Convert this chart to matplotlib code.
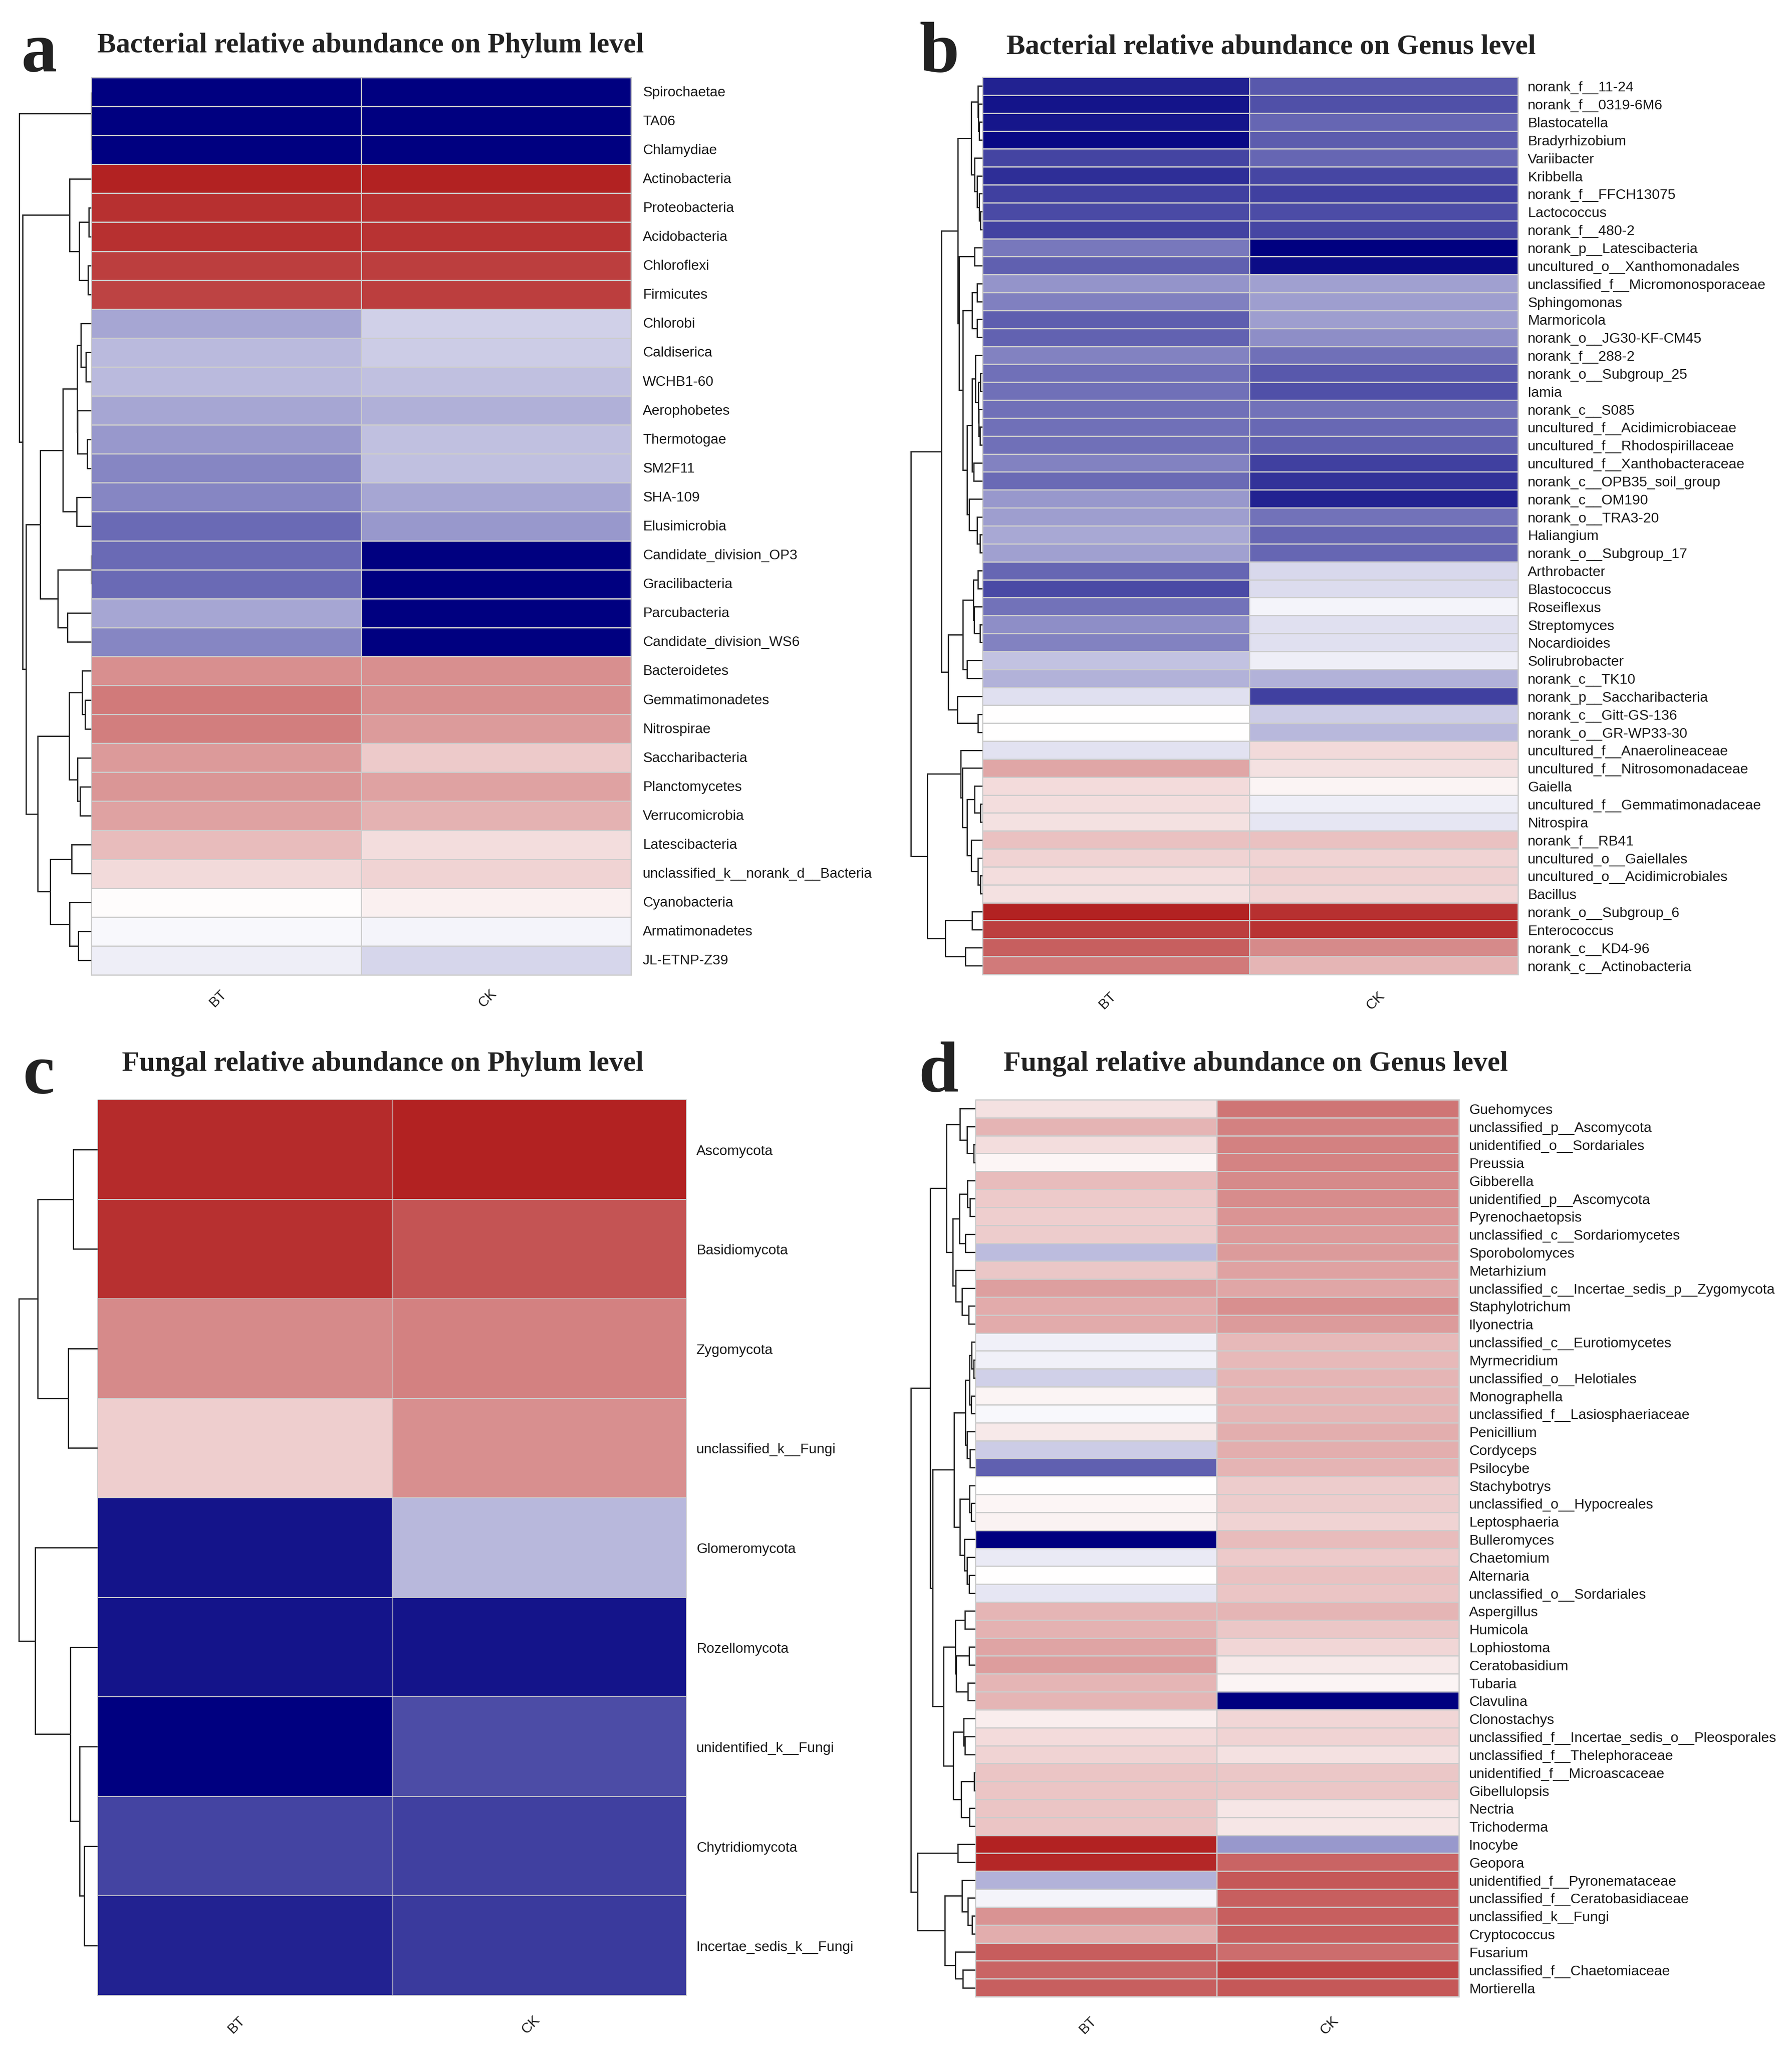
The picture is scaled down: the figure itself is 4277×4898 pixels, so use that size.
import numpy as np
import matplotlib
matplotlib.use("Agg")
import matplotlib.pyplot as plt
from matplotlib.colors import LinearSegmentedColormap, Normalize
from matplotlib.transforms import ScaledTranslation

# scaled abundance, -1 (navy) to 1 (firebrick)
samples = ["BT", "CK"]

a_labels = ["Spirochaetae", "TA06", "Chlamydiae", "Actinobacteria", "Proteobacteria", "Acidobacteria",
            "Chloroflexi", "Firmicutes", "Chlorobi", "Caldiserica", "WCHB1-60", "Aerophobetes", "Thermotogae",
            "SM2F11", "SHA-109", "Elusimicrobia", "Candidate_division_OP3", "Gracilibacteria", "Parcubacteria",
            "Candidate_division_WS6", "Bacteroidetes", "Gemmatimonadetes", "Nitrospirae", "Saccharibacteria",
            "Planctomycetes", "Verrucomicrobia", "Latescibacteria", "unclassified_k__norank_d__Bacteria",
            "Cyanobacteria", "Armatimonadetes", "JL-ETNP-Z39"]
a_bt = [-1, -1, -1, 1.0, .93, .93, .87, .85, -.35, -.27, -.27, -.35, -.4, -.47, -.47, -.58, -.58, -.58, -.35, -.47,
        .5, .6, .58, .46, .47, .42, .3, .17, .01, -.03, -.07]
a_ck = [-1, -1, -1, 1.0, .93, .92, .87, .87, -.18, -.2, -.25, -.31, -.25, -.25, -.35, -.4, -1, -1, -1, -1,
        .5, .5, .45, .24, .42, .35, .15, .2, .07, -.04, -.16]

b_labels = ["norank_f__11-24", "norank_f__0319-6M6", "Blastocatella", "Bradyrhizobium", "Variibacter", "Kribbella",
            "norank_f__FFCH13075", "Lactococcus", "norank_f__480-2", "norank_p__Latescibacteria",
            "uncultured_o__Xanthomonadales", "unclassified_f__Micromonosporaceae", "Sphingomonas", "Marmoricola",
            "norank_o__JG30-KF-CM45", "norank_f__288-2", "norank_o__Subgroup_25", "Iamia", "norank_c__S085",
            "uncultured_f__Acidimicrobiaceae", "uncultured_f__Rhodospirillaceae", "uncultured_f__Xanthobacteraceae",
            "norank_c__OPB35_soil_group", "norank_c__OM190", "norank_o__TRA3-20", "Haliangium",
            "norank_o__Subgroup_17", "Arthrobacter", "Blastococcus", "Roseiflexus", "Streptomyces", "Nocardioides",
            "Solirubrobacter", "norank_c__TK10", "norank_p__Saccharibacteria", "norank_c__Gitt-GS-136",
            "norank_o__GR-WP33-30", "uncultured_f__Anaerolineaceae", "uncultured_f__Nitrosomonadaceae", "Gaiella",
            "uncultured_f__Gemmatimonadaceae", "Nitrospira", "norank_f__RB41", "uncultured_o__Gaiellales",
            "uncultured_o__Acidimicrobiales", "Bacillus", "norank_o__Subgroup_6", "Enterococcus",
            "norank_c__KD4-96", "norank_c__Actinobacteria"]
b_bt = [-.86, -.92, -.91, -.96, -.73, -.82, -.75, -.71, -.74, -.53, -.62, -.42, -.5, -.63, -.61, -.49, -.56, -.56,
        -.56, -.56, -.56, -.49, -.58, -.4, -.38, -.34, -.37, -.6, -.71, -.55, -.44, -.49, -.24, -.3, -.12, 0, 0,
        -.11, .4, .16, .15, .14, .28, .2, .15, .14, 1.0, .86, .72, .6]
b_ck = [-.65, -.68, -.6, -.64, -.6, -.72, -.75, -.7, -.72, -1, -.95, -.37, -.38, -.38, -.44, -.56, -.65, -.68,
        -.55, -.59, -.62, -.75, -.8, -.86, -.55, -.6, -.6, -.15, -.14, -.04, -.12, -.12, -.07, -.3, -.75, -.2, -.28,
        .17, .14, .05, -.07, -.1, .28, .2, .21, .18, .93, .92, .53, .33]

c_labels = ["Ascomycota", "Basidiomycota", "Zygomycota", "unclassified_k__Fungi", "Glomeromycota", "Rozellomycota",
            "unidentified_k__Fungi", "Chytridiomycota", "Incertae_sedis_k__Fungi"]
c_bt = [.96, .93, .53, .22, -.92, -.92, -1, -.73, -.86]
c_ck = [1.0, .77, .57, .5, -.28, -.92, -.7, -.75, -.77]

d_labels = ["Guehomyces", "unclassified_p__Ascomycota", "unidentified_o__Sordariales", "Preussia", "Gibberella",
            "unidentified_p__Ascomycota", "Pyrenochaetopsis", "unclassified_c__Sordariomycetes", "Sporobolomyces",
            "Metarhizium", "unclassified_c__Incertae_sedis_p__Zygomycota", "Staphylotrichum", "Ilyonectria",
            "unclassified_c__Eurotiomycetes", "Myrmecridium", "unclassified_o__Helotiales", "Monographella",
            "unclassified_f__Lasiosphaeriaceae", "Penicillium", "Cordyceps", "Psilocybe", "Stachybotrys",
            "unclassified_o__Hypocreales", "Leptosphaeria", "Bulleromyces", "Chaetomium", "Alternaria",
            "unclassified_o__Sordariales", "Aspergillus", "Humicola", "Lophiostoma", "Ceratobasidium", "Tubaria",
            "Clavulina", "Clonostachys", "unclassified_f__Incertae_sedis_o__Pleosporales",
            "unclassified_f__Thelephoraceae", "unidentified_f__Microascaceae", "Gibellulopsis", "Nectria",
            "Trichoderma", "Inocybe", "Geopora", "unidentified_f__Pyronemataceae", "unclassified_f__Ceratobasidiaceae",
            "unclassified_k__Fungi", "Cryptococcus", "Fusarium", "unclassified_f__Chaetomiaceae", "Mortierella"]
d_bt = [.14, .34, .15, .04, .3, .24, .22, .23, -.26, .25, .43, .38, .38, -.06, -.06, -.18, .05, -.03, .1, -.2, -.62,
        0, .04, .06, -1, -.08, 0, -.1, .33, .35, .41, .44, .33, .33, .08, .16, .2, .26, .26, .26, .26,
        1, .97, -.3, -.04, .49, .37, .73, .7, .72]
d_ck = [.62, .57, .57, .56, .53, .52, .48, .46, .45, .42, .4, .5, .45, .32, .32, .33, .33, .33, .36, .36, .34,
        .23, .23, .2, .3, .24, .28, .26, .33, .25, .18, .1, .05, -1, .18, .2, .14, .25, .25, .11, .11,
        -.4, .7, .75, .72, .72, .72, .66, .83, .75]

# dendrograms: (merge height, upper child, lower child), L is one leaf, leaves go top to bottom
L = None

a_tree = (172, (0, L, (0, L, L)),
          (164, (52, L, (29, (6, L, L), (8, L, L))),
           (156, (122, (68, (34, (25, L, (13, L, L)), (33, L, (10, L, L))), (35, L, L)),
                  (80, (0, L, L), (57, L, L))),
            (128, (53, (22, L, (15, L, L)), (33, L, (27, L, L))),
             (98, (47, L, L), (52, L, (31, L, L)))))))

b_tree = (171, (98, (59, (27, (11, L, (10, L, (8, L, L))),
                          (19, L, (13, L, (8, L, (5, L, L))))),
                     (56, (19, L, L),
                      (47, (25, (13, L, L), (13, L, L)),
                       (37, (25, (17, L, (10, (5, L, L), (9, L, (6, L, L)))), (21, L, L)),
                        (32, L, (13, L, (6, L, L))))))),
                (82, (47, (22, (11, L, L), (20, L, (6, L, L))), (37, L, L)),
                 (60, L, (11, L, L)))),
          (132, (52, L, (48, L, (37, (19, L, (5, L, L)), (27, L, (11, L, (5, L, L)))))),
           (89, (25, L, L), (41, L, L))))

c_tree = (188, (143, (58, L, L), (70, L, L)),
          (149, L, (65, L, (43, L, (32, L, L)))))

d_tree = (154, (108, (69, (37, L, (20, L, (4, L, L))),
                      (54, (38, (19, L, (13, L, L)), (24, L, L)),
                       (47, L, (32, L, (16, L, L))))),
                (102, (51, (24, (14, (9, L, (4, L, L)), (10, L, L)), (20, L, (13, L, L))),
                       (37, (14, L, (10, L, L)), (26, L, (20, L, (15, L, L))))),
                 (76, (48, (25, L, L), (46, (15, L, L), (18, L, L))),
                  (53, (28, L, (25, L, L)), (34, (3, L, L), (14, L, L)))))),
          (138, (42, L, L),
           (73, (32, L, (18, L, (8, L, L))), (48, L, (30, L, L)))))

FIG_W, FIG_H = 4277, 4899
DPI = 300
GREY = "#cccccc"
INK = "#222222"

cmap = LinearSegmentedColormap.from_list("navy_fire", ["navy", "white", "firebrick"])
norm = Normalize(-1, 1)
plt.rcParams["font.family"] = ["Liberation Sans", "DejaVu Sans"]


def px(n):
    return n * 72 / DPI


def px_axes(fig, x0, y0, x1, y1):
    # pixel box in the picture, y counted from the top
    return fig.add_axes([x0 / FIG_W, 1 - y1 / FIG_H, (x1 - x0) / FIG_W, (y1 - y0) / FIG_H])


def draw_tree(ax, node, counter):
    if node is None:
        y = counter[0] + 0.5
        counter[0] += 1
        return 0, y
    h, upper, lower = node
    h1, y1 = draw_tree(ax, upper, counter)
    h2, y2 = draw_tree(ax, lower, counter)
    ax.plot([h1, h, h, h2], [y1, y1, y2, y2], color=INK, lw=px(3), solid_joinstyle="miter", solid_capstyle="butt")
    return h, (y1 + y2) / 2


def panel(fig, box, xmid, labels, bt, ck, tree, fontsize, label_gap, name_y, label_lift=0, grid_lw=2.8):
    x0, y0, x1, y1 = box
    n = len(labels)
    ax = px_axes(fig, x0, y0, x1, y1)
    values = np.array([bt, ck]).T
    # the two sample columns are not quite the same width
    split = (xmid - x0) / (x1 - x0) * 2
    xedges = [0, split, 2]
    mesh = ax.pcolormesh(xedges, np.arange(n + 1), values, cmap=cmap, norm=norm, edgecolors=GREY, linewidth=px(grid_lw))
    mesh.set_clip_on(False)
    ax.set_xlim(0, 2)
    ax.set_ylim(n, 0)
    ax.set_xticks([])
    ax.yaxis.tick_right()
    ax.set_yticks(np.arange(n) + 0.5)
    ax.set_yticklabels(labels, fontsize=fontsize, color="#1a1a1a")
    ax.tick_params(axis="y", length=0, pad=px(label_gap))
    lift = ScaledTranslation(0, label_lift / DPI, fig.dpi_scale_trans)
    for lab in ax.get_yticklabels():
        lab.set_transform(lab.get_transform() + lift)
    for s in ax.spines.values():
        s.set_visible(False)
    centres = [(xedges[0] + xedges[1]) / 2, (xedges[1] + xedges[2]) / 2]
    for c, name in zip(centres, samples):
        ax.annotate(name, (c, n), xytext=(-20, -(name_y - y1)), textcoords="offset pixels", rotation=45,
                    ha="center", va="center", fontsize=fontsize, color="#1a1a1a", annotation_clip=False)

    dn = px_axes(fig, x0 - 215, y0, x0, y1)
    draw_tree(dn, tree, [0])
    dn.set_xlim(215, 0)
    dn.set_ylim(n, 0)
    dn.axis("off")


fig = plt.figure(figsize=(FIG_W / DPI, FIG_H / DPI), dpi=DPI, facecolor="white")

panel(fig, (218, 186, 1506, 2328), 862, a_labels, a_bt, a_ck, a_tree, 8.06, 28, 2384, label_lift=3)
panel(fig, (2345, 185, 3623, 2327), 2982, b_labels, b_bt, b_ck, b_tree, 8.15, 23, 2389)
panel(fig, (233, 2626, 1638, 4764), 936, c_labels, c_bt, c_ck, c_tree, 8.07, 24, 4834, grid_lw=2)
panel(fig, (2328, 2626, 3482, 4767), 2904, d_labels, d_bt, d_ck, d_tree, 8.14, 24, 4835)

titles = [("Bacterial relative abundance on Phylum level", 232, 125),
          ("Bacterial relative abundance on Genus level", 2402, 129),
          ("Fungal relative abundance on Phylum level", 291, 2556),
          ("Fungal relative abundance on Genus level", 2395, 2556)]
for text, x, y in titles:
    fig.text(x / FIG_W, 1 - y / FIG_H, text, family="Liberation Serif", weight="bold", fontsize=16.2,
             color=INK, ha="left", va="baseline")

letters = [("a", 50, 170), ("b", 2195, 171), ("c", 54, 2609), ("d", 2192, 2605)]
for text, x, y in letters:
    fig.text(x / FIG_W, 1 - y / FIG_H, text, family="Liberation Serif", weight="bold", fontsize=41,
             color=INK, ha="left", va="baseline")

fig.savefig("out.png", dpi=DPI)
